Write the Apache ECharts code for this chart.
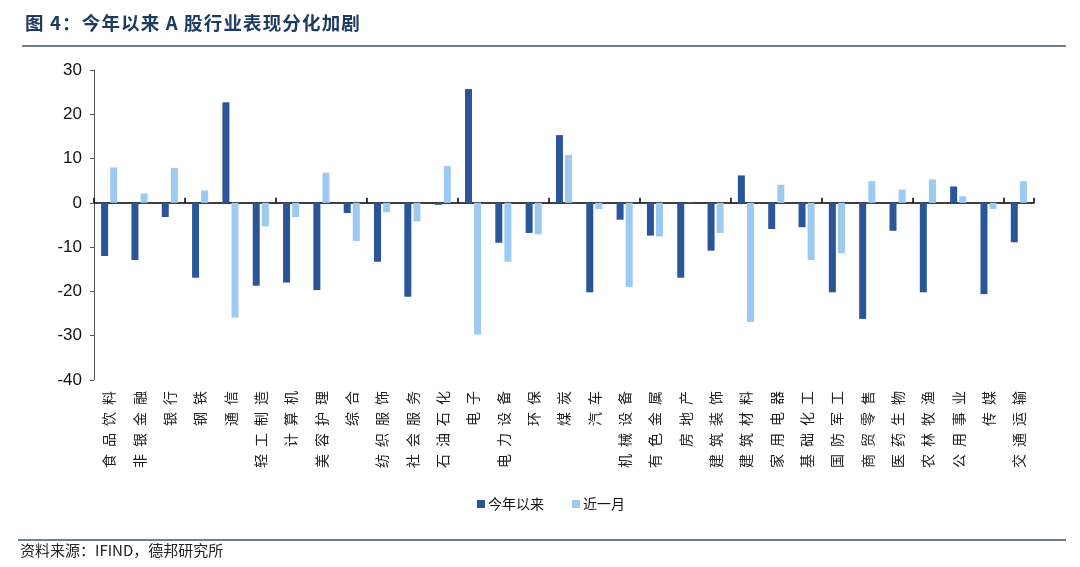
<!DOCTYPE html>
<html>
<head>
<meta charset="utf-8">
<script src="https://cdn.jsdelivr.net/npm/echarts@6/dist/echarts.min.js"></script>
<style>
html,body{margin:0;padding:0;background:#fff;}
#c{width:1080px;height:567px;}
</style>
</head>
<body>
<div id="c"></div>
<script>
const categories = ['食品饮料','非银金融','银行','钢铁','通信','轻工制造','计算机','美容护理','综合','纺织服饰','社会服务','石油石化','电子','电力设备','环保','煤炭','汽车','机械设备','有色金属','房地产','建筑装饰','建筑材料','家用电器','基础化工','国防军工','商贸零售','医药生物','农林牧渔','公用事业','传媒','交通运输'];
const ytdValues = [-12.0,-12.9,-3.2,-16.9,22.7,-18.7,-18.0,-19.7,-2.3,-13.3,-21.2,-0.45,25.7,-9.0,-6.8,15.3,-20.2,-3.8,-7.4,-16.9,-10.8,6.2,-5.9,-5.5,-20.2,-26.2,-6.3,-20.2,3.7,-20.6,-8.9];
const monthValues = [8.0,2.1,7.9,2.8,-25.9,-5.3,-3.2,6.8,-8.6,-2.1,-4.2,8.3,-29.7,-13.3,-7.1,10.8,-1.4,-19.0,-7.6,0.05,-6.8,-26.9,4.1,-12.9,-11.4,4.9,3.0,5.3,1.5,-1.4,4.9];
const seriesNames = ['今年以来','近一月'];
const yTicks = {min:-40, max:30, interval:10};
const titleText = '图 4：今年以来 A 股行业表现分化加剧';

const chart = echarts.init(document.getElementById('c'));
const cjk = '"Noto Sans CJK SC", sans-serif';
chart.setOption({
  animation:false,
  backgroundColor:'#fff',
  title:{
    text:titleText.split('').join('\u200A'),
    left:20, top:9,
    textStyle:{fontFamily:cjk, fontSize:18.5, fontWeight:'bold', color:'#1f3a60'}
  },
  graphic:[
    {type:'line', shape:{x1:22,y1:46,x2:1066,y2:46}, style:{stroke:'#44546a', lineWidth:1.5}},
    {type:'line', shape:{x1:18,y1:540,x2:1066,y2:540}, style:{stroke:'#44546a', lineWidth:1.5}},
    {type:'text', left:20, top:543, style:{text:'资料来源：IFIND，德邦研究所', font:'15px "Noto Sans CJK SC", sans-serif', fill:'#222'}}
  ],
  legend:{
    data:seriesNames,
    left:472, top:492,
    itemWidth:8, itemHeight:8, itemGap:28,
    icon:'rect',
    textStyle:{fontFamily:cjk, fontSize:14, color:'#111', padding:[0,0,0,-2]}
  },
  grid:{left:94, right:46, top:70, bottom:187},
  xAxis:[
    {
      type:'category', data:categories,
      axisLine:{onZero:true, lineStyle:{color:'#000', width:1.5}},
      axisTick:{show:true, inside:true, length:5, lineStyle:{color:'#000', width:1.5}},
      axisLabel:{show:false}
    },
    {
      type:'category', data:categories, position:'bottom',
      axisLine:{show:false}, axisTick:{show:false},
      axisLabel:{
        interval:0, margin:11, rotate:90,
        fontFamily:cjk, fontSize:14, color:'#222',
        formatter:(v)=>v.split('').join('\u2002')
      }
    }
  ],
  yAxis:{
    type:'value', min:yTicks.min, max:yTicks.max, interval:yTicks.interval,
    axisLine:{show:true, lineStyle:{color:'#555', width:1}},
    axisTick:{show:true, length:4, lineStyle:{color:'#555'}},
    splitLine:{show:false},
    axisLabel:{fontFamily:'Arial, "Liberation Sans", sans-serif', fontSize:17, color:'#111', margin:12}
  },
  series:[
    {name:seriesNames[0], type:'bar', xAxisIndex:0, data:ytdValues, barWidth:7, barGap:'30%',
     itemStyle:{color:'#2a5699'}},
    {name:seriesNames[1], type:'bar', xAxisIndex:0, data:monthValues, barWidth:7,
     itemStyle:{color:'#9dcaf0'}}
  ]
});
</script>
</body>
</html>
